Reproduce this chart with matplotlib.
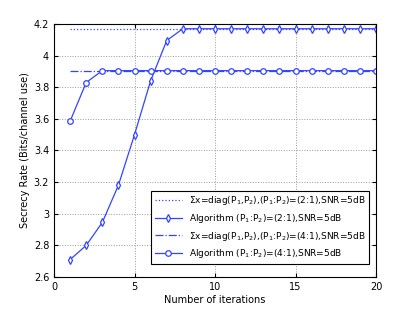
import matplotlib
matplotlib.use("Agg")
import matplotlib.pyplot as plt
import numpy as np

iters = list(range(1, 21))
alg21 = [2.71, 2.80, 2.945, 3.18, 3.50, 3.84, 4.095, 4.17] + [4.17] * 12
alg41 = [3.585, 3.83, 3.905] + [3.905] * 17
diag21 = [4.17] * 20
diag41 = [3.905] * 20

labels = [r"$\Sigma$x=diag(P$_1$,P$_2$),(P$_1$:P$_2$)=(2:1),SNR=5dB",
          r"Algorithm (P$_1$:P$_2$)=(2:1),SNR=5dB",
          r"$\Sigma$x=diag(P$_1$,P$_2$),(P$_1$:P$_2$)=(4:1),SNR=5dB",
          r"Algorithm (P$_1$:P$_2$)=(4:1),SNR=5dB"]

plt.rcParams['font.family'] = 'DejaVu Sans'
plt.rcParams['mathtext.default'] = 'regular'
fig = plt.figure(figsize=(4.15, 3.13), dpi=100)
ax = fig.add_axes([54/415, 1-277/313, (376-54)/415, (277-24)/313])
c = '#3344ff'
ax.plot(iters, diag21, ':', color=c, lw=0.9, label=labels[0])
ax.plot(iters, alg21, '-', color=c, lw=0.9, marker='d', ms=4.2, mfc='white', mec=c, mew=0.9, label=labels[1])
ax.plot(iters, diag41, '-.', color=c, lw=0.9, label=labels[2])
ax.plot(iters, alg41, '-', color=c, lw=0.9, marker='o', ms=4, mfc='white', mec=c, mew=0.9, label=labels[3])
ax.set_xlim(0, 20)
ax.set_ylim(2.6, 4.2)
ax.set_xticks([0, 5, 10, 15, 20])
ax.set_yticks(np.arange(2.6, 4.21, 0.2))
ax.set_yticklabels(['2.6', '2.8', '3', '3.2', '3.4', '3.6', '3.8', '4', '4.2'])
ax.grid(True, linestyle=':', color='#999999', lw=0.7)
ax.tick_params(labelsize=7, direction='in', length=3, top=True, right=True)
for s in ax.spines.values():
    s.set_linewidth(0.8)
ax.set_xlabel('Number of iterations', fontsize=7, labelpad=2)
ax.set_ylabel('Secrecy Rate (Bits/channel use)', fontsize=7, labelpad=3)
leg = ax.legend(loc='lower right', fontsize=6.5, fancybox=False, edgecolor='black',
                framealpha=1, borderpad=0.4, labelspacing=0.5, handlelength=3,
                bbox_to_anchor=(0.993, 0.035))
leg.get_frame().set_linewidth(0.8)
fig.savefig('out.png', dpi=100)
